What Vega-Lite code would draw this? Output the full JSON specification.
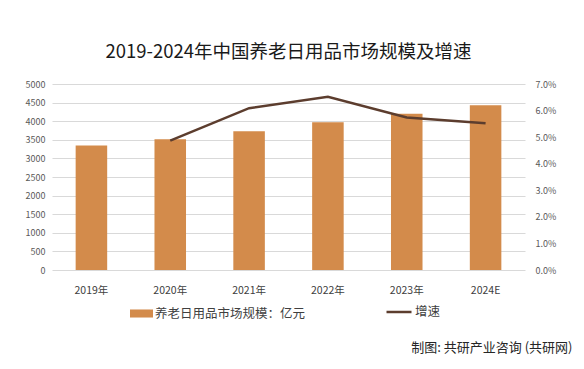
{
  "$schema": "https://vega.github.io/schema/vega-lite/v6.json",
  "width": 473,
  "height": 186,
  "autosize": {"type": "none"},
  "padding": {"left": 52, "top": 84, "right": 59, "bottom": 99},
  "background": "white",
  "config": {
    "font": "Noto Sans CJK SC",
    "view": {"stroke": null},
    "axis": {"labelFont": "Noto Sans CJK SC", "titleFont": "Noto Sans CJK SC"}
  },
  "title": {
    "text": "2019-2024年中国养老日用品市场规模及增速",
    "fontSize": 18.5,
    "fontWeight": "normal",
    "color": "#1a1a1a",
    "anchor": "middle",
    "offset": 19,
    "font": "Noto Sans CJK SC"
  },
  "data": {
    "values": [
      {"year": "2019年", "size": 3350, "growth": null},
      {"year": "2020年", "size": 3513, "growth": 0.0487},
      {"year": "2021年", "size": 3727, "growth": 0.0609},
      {"year": "2022年", "size": 3970, "growth": 0.0652},
      {"year": "2023年", "size": 4198, "growth": 0.0574},
      {"year": "2024E", "size": 4430, "growth": 0.0552}
    ]
  },
  "encoding": {
    "x": {
      "field": "year",
      "type": "nominal",
      "sort": null,
      "scale": {"paddingInner": 0.6, "paddingOuter": 0.3},
      "axis": {
        "title": "制图: 共研产业咨询 (共研网)",
        "titleFontSize": 13,
        "titleFontWeight": "normal",
        "titleColor": "#262626",
        "titleAnchor": "end",
        "titleAlign": "right",
        "titleBaseline": "middle",
        "titleX": 520,
        "titleY": 77,
        "labelAngle": 0,
        "labelFontSize": 10.5,
        "labelColor": "#404040",
        "labelPadding": 15,
        "domain": false,
        "ticks": false
      }
    }
  },
  "layer": [
    {
      "mark": {"type": "bar", "color": "#D38B4B"},
      "encoding": {
        "y": {
          "field": "size",
          "type": "quantitative",
          "scale": {"domain": [0, 5000]},
          "axis": {
            "title": null,
            "values": [0, 500, 1000, 1500, 2000, 2500, 3000, 3500, 4000, 4500, 5000],
            "format": "d",
            "labelFontSize": 9,
            "labelColor": "#595959",
            "labelPadding": 7,
            "domain": false,
            "ticks": false,
            "gridColor": "#D9D9D9",
            "gridWidth": 1
          }
        },
        "fill": {
          "datum": "养老日用品市场规模：亿元",
          "type": "nominal",
          "scale": {"range": ["#D38B4B"]},
          "legend": {
            "title": null,
            "orient": "none",
            "legendX": 78,
            "legendY": 218,
            "labelFontSize": 12.5,
            "labelColor": "#404040",
            "labelFont": "Noto Sans CJK SC",
            "symbolType": "M-1,-0.35H1V0.35H-1Z",
            "symbolSize": 529,
            "symbolStrokeWidth": 0,
            "labelOffset": 2
          }
        }
      }
    },
    {
      "transform": [{"filter": "datum.growth != null"}],
      "mark": {"type": "line", "strokeWidth": 2.5, "color": "#5C3D2E"},
      "encoding": {
        "y": {
          "field": "growth",
          "type": "quantitative",
          "scale": {"domain": [0, 0.07]},
          "axis": {
            "title": null,
            "orient": "right",
            "values": [0, 0.01, 0.02, 0.03, 0.04, 0.05, 0.06, 0.07],
            "format": ".1%",
            "labelFontSize": 9,
            "labelColor": "#595959",
            "labelPadding": 10,
            "domain": false,
            "ticks": false,
            "grid": false
          }
        },
        "stroke": {
          "datum": "增速",
          "type": "nominal",
          "scale": {"range": ["#5C3D2E"]},
          "legend": {
            "title": null,
            "orient": "none",
            "legendX": 333,
            "legendY": 214,
            "labelFontSize": 12.5,
            "labelColor": "#404040",
            "labelFont": "Noto Sans CJK SC",
            "symbolType": "stroke",
            "symbolSize": 625,
            "symbolStrokeWidth": 2.5,
            "labelOffset": 2
          }
        }
      }
    }
  ],
  "resolve": {"scale": {"y": "independent"}}
}
